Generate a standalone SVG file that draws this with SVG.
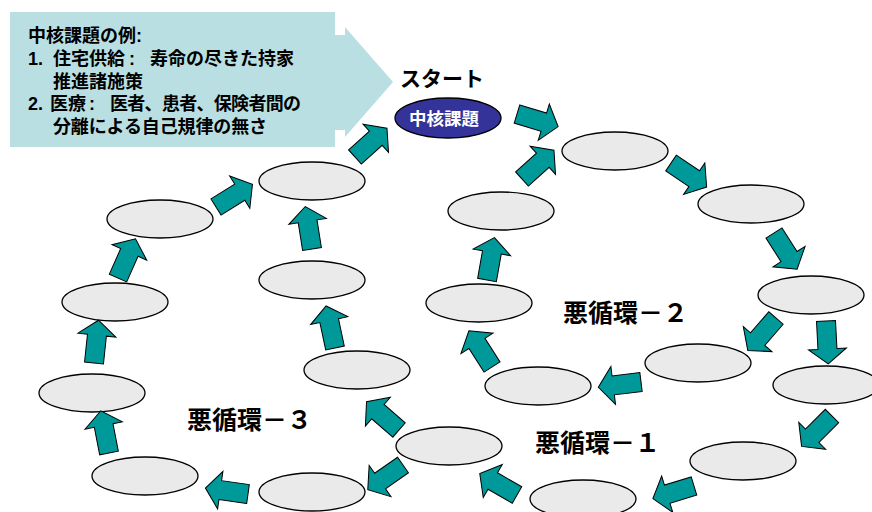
<svg xmlns="http://www.w3.org/2000/svg" xmlns:xlink="http://www.w3.org/1999/xlink" width="872" height="512" viewBox="0 0 872 512">
<style>
.t{font-family:"Liberation Sans","Noto Sans CJK JP",sans-serif;font-weight:bold;fill:#000}
.c{font-size:18px}
.lbl{font-size:25px}
.n{fill:#eaeaea;stroke:#000;stroke-width:1.3}
.a{fill:#009999;stroke:#000;stroke-width:1}
</style>
<defs>
<polygon id="arr" points="0,-9.5 28,-9.5 28,-19 43,0 28,19 28,9.5 0,9.5"/>
</defs>
<rect width="872" height="512" fill="#fff"/>
<g id="callout">
<path d="M10,12 H335 V35 H345 V27 L393,82 L345,137 V130 H335 V147 H10 Z" fill="#b9dfe3"/>
<text class="t c" x="28" y="42">中核課題の例:</text>
<text class="t c" y="65"><tspan x="28">1.</tspan><tspan x="53">住宅供給</tspan><tspan x="129">:</tspan><tspan x="150" textLength="144">寿命の尽きた持家</tspan></text>
<text class="t c" x="53" y="88">推進諸施策</text>
<text class="t c" y="110"><tspan x="28">2.</tspan><tspan x="50">医療</tspan><tspan x="89">:</tspan><tspan x="110" textLength="191">医者、患者、保険者間の</tspan></text>
<text class="t c" x="53" y="133" textLength="214">分離による自己規律の無さ</text>
</g>
<g id="start">
<text class="t" x="400" y="86" font-size="21">スタート</text>
<ellipse cx="448" cy="118" rx="53" ry="20" fill="#333399" stroke="#000" stroke-width="1.3"/>
<text class="t" x="444" y="124.5" font-size="17.5" text-anchor="middle" style="fill:#fff">中核課題</text>
</g>
<g id="n1"><ellipse class="n" cx="615" cy="151" rx="53" ry="19"/></g>
<g id="n2"><ellipse class="n" cx="751" cy="204" rx="53" ry="19"/></g>
<g id="n3"><ellipse class="n" cx="811" cy="295" rx="53" ry="19"/></g>
<g id="n4"><ellipse class="n" cx="826" cy="385" rx="53" ry="19"/></g>
<g id="n5"><ellipse class="n" cx="698" cy="363" rx="53" ry="19"/></g>
<g id="n6"><ellipse class="n" cx="538" cy="386" rx="53" ry="19"/></g>
<g id="n7"><ellipse class="n" cx="743" cy="461" rx="53" ry="19"/></g>
<g id="n8"><ellipse class="n" cx="583" cy="499" rx="53" ry="19"/></g>
<g id="n9"><ellipse class="n" cx="449" cy="446" rx="53" ry="19"/></g>
<g id="n10"><ellipse class="n" cx="357" cy="370" rx="53" ry="19"/></g>
<g id="n11"><ellipse class="n" cx="312" cy="492" rx="53" ry="19"/></g>
<g id="n12"><ellipse class="n" cx="145" cy="476" rx="53" ry="19"/></g>
<g id="n13"><ellipse class="n" cx="92" cy="393" rx="53" ry="19"/></g>
<g id="n14"><ellipse class="n" cx="115" cy="302" rx="53" ry="19"/></g>
<g id="n15"><ellipse class="n" cx="160" cy="219" rx="53" ry="19"/></g>
<g id="n16"><ellipse class="n" cx="312" cy="181" rx="53" ry="19"/></g>
<g id="n17"><ellipse class="n" cx="312" cy="280" rx="53" ry="19"/></g>
<g id="n18"><ellipse class="n" cx="479" cy="303" rx="53" ry="19"/></g>
<g id="n19"><ellipse class="n" cx="501" cy="211" rx="53" ry="19"/></g>
<g id="labels">
<text class="t lbl" x="563" y="322">悪循環－２</text>
<text class="t lbl" x="535" y="452">悪循環－１</text>
<text class="t lbl" x="187" y="429">悪循環－３</text>
</g>
<g id="connectors">
<use xlink:href="#arr" class="a" transform="translate(517,114) rotate(17)"/>
<use xlink:href="#arr" class="a" transform="translate(522,179) rotate(-42)"/>
<use xlink:href="#arr" class="a" transform="translate(671,163) rotate(34)"/>
<use xlink:href="#arr" class="a" transform="translate(774,233) rotate(57.5)"/>
<use xlink:href="#arr" class="a" transform="translate(776,318) rotate(131)"/>
<use xlink:href="#arr" class="a" transform="translate(826,321) rotate(87)"/>
<use xlink:href="#arr" class="a" transform="translate(832,416) rotate(135)"/>
<use xlink:href="#arr" class="a" transform="translate(694,486) rotate(163)"/>
<use xlink:href="#arr" class="a" transform="translate(641,382) rotate(173)"/>
<use xlink:href="#arr" class="a" transform="translate(492,367) rotate(-122.5)"/>
<use xlink:href="#arr" class="a" transform="translate(517,495) rotate(-150)"/>
<use xlink:href="#arr" class="a" transform="translate(399,430) rotate(-139)"/>
<use xlink:href="#arr" class="a" transform="translate(403,465) rotate(145)"/>
<use xlink:href="#arr" class="a" transform="translate(248,494) rotate(188)"/>
<use xlink:href="#arr" class="a" transform="translate(109,453) rotate(-101)"/>
<use xlink:href="#arr" class="a" transform="translate(94,363) rotate(-84)"/>
<use xlink:href="#arr" class="a" transform="translate(118,278) rotate(-66)"/>
<use xlink:href="#arr" class="a" transform="translate(216,207) rotate(-32)"/>
<use xlink:href="#arr" class="a" transform="translate(355,157) rotate(-42)"/>
<use xlink:href="#arr" class="a" transform="translate(312,249) rotate(-99)"/>
<use xlink:href="#arr" class="a" transform="translate(335,348) rotate(-102)"/>
<use xlink:href="#arr" class="a" transform="translate(487,280) rotate(-80)"/>
</g>
</svg>
